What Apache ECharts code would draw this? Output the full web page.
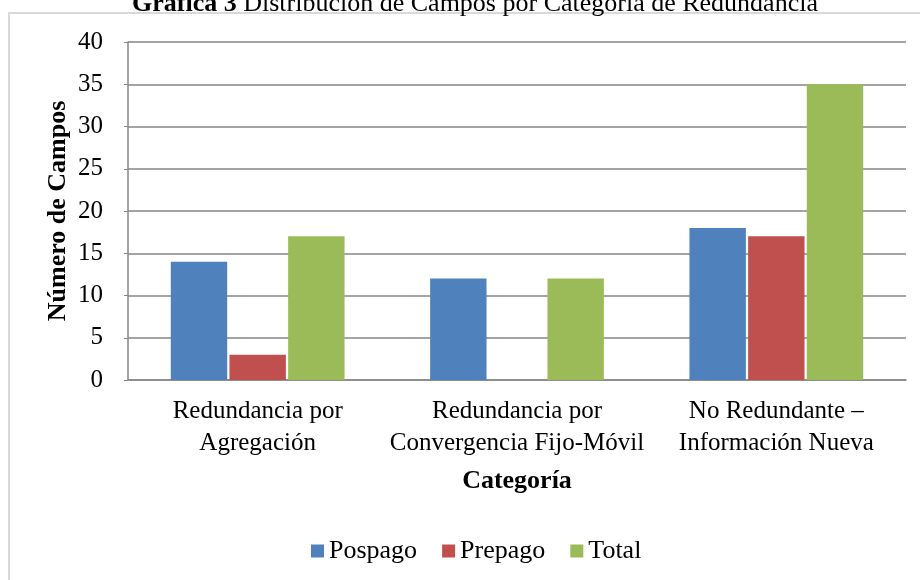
<!DOCTYPE html>
<html>
<head>
<meta charset="utf-8">
<script src="https://cdn.jsdelivr.net/npm/echarts@6/dist/echarts.min.js"></script>
<style>
  html, body { margin: 0; padding: 0; background: #fff; }
  #chart { width: 920px; height: 580px; }
</style>
</head>
<body>
<div id="chart"></div>
<script>
// categories and series
const categories = [
  "Redundancia por\nAgregación",
  "Redundancia por\nConvergencia Fijo-Móvil",
  "No Redundante –\nInformación Nueva"
];
const pospago = [14, 12, 18];
const prepago = [3, 0, 17];
const total = [17, 12, 35];

const FONT = "'Liberation Serif', 'DejaVu Serif', serif";
const GRID_GRAY = "#868686";

const chart = echarts.init(document.getElementById("chart"));

const barBase = {
  type: "bar",
  barGap: "4%",
  barCategoryGap: "33%",
};

chart.setOption({
  backgroundColor: "#fff",
  animation: false,
  textStyle: { fontFamily: FONT },

  title: {
    text: "{b|Gráfica 3} Distribución de Campos por Categoría de Redundancia",
    left: 470,
    top: -14,
    textAlign: "center",
    textStyle: {
      fontFamily: FONT,
      fontSize: 26,
      fontWeight: "normal",
      color: "#000",
      rich: {
        b: { fontFamily: FONT, fontSize: 26, fontWeight: "bold", color: "#000" },
      },
    },
  },

  // outer chart frame (only top + left edges are inside the picture)
  graphic: [
    {
      type: "rect",
      shape: { x: 9, y: 13, width: 1000, height: 1000 },
      style: { fill: null, stroke: "#d9d9d9", lineWidth: 2 },
      silent: true,
      z: -1,
    },
  ],

  grid: {
    left: 128,
    right: 14,
    top: 42,
    bottom: 200,
  },

  legend: {
    data: ["Pospago", "Prepago", "Total"],
    left: 306,
    top: 533,
    icon: "rect",
    itemWidth: 13,
    itemHeight: 13,
    itemGap: 25,
    textStyle: { fontFamily: FONT, fontSize: 26, color: "#000" },
  },

  xAxis: {
    type: "category",
    data: categories,
    name: "Categoría",
    nameLocation: "middle",
    nameGap: 88,
    nameTextStyle: { fontFamily: FONT, fontSize: 26, fontWeight: "bold", color: "#000" },
    axisLine: { lineStyle: { color: GRID_GRAY, width: 1.5 } },
    axisTick: { show: false },
    axisLabel: {
      interval: 0,
      margin: 15,
      color: "#000",
      fontFamily: FONT,
      fontSize: 25,
      lineHeight: 32,
    },
  },

  yAxis: {
    type: "value",
    min: 0,
    max: 40,
    interval: 5,
    name: "Número de Campos",
    nameLocation: "middle",
    nameGap: 57,
    nameMoveOverlap: false,
    nameRotate: 90,
    nameTextStyle: { fontFamily: FONT, fontSize: 26, fontWeight: "bold", color: "#000" },
    axisLine: { show: true, lineStyle: { color: GRID_GRAY, width: 1.5 } },
    axisTick: { show: true, length: 4, lineStyle: { color: GRID_GRAY } },
    axisLabel: {
      margin: 25,
      color: "#000",
      fontFamily: FONT,
      fontSize: 25,
    },
    splitLine: { lineStyle: { color: GRID_GRAY, width: 1.5 } },
  },

  series: [
    { ...barBase, name: "Pospago", data: pospago, itemStyle: { color: "#4f81bd" } },
    { ...barBase, name: "Prepago", data: prepago, itemStyle: { color: "#c0504d" } },
    { ...barBase, name: "Total", data: total, itemStyle: { color: "#9bbb59" } },
  ],
});
</script>
</body>
</html>
